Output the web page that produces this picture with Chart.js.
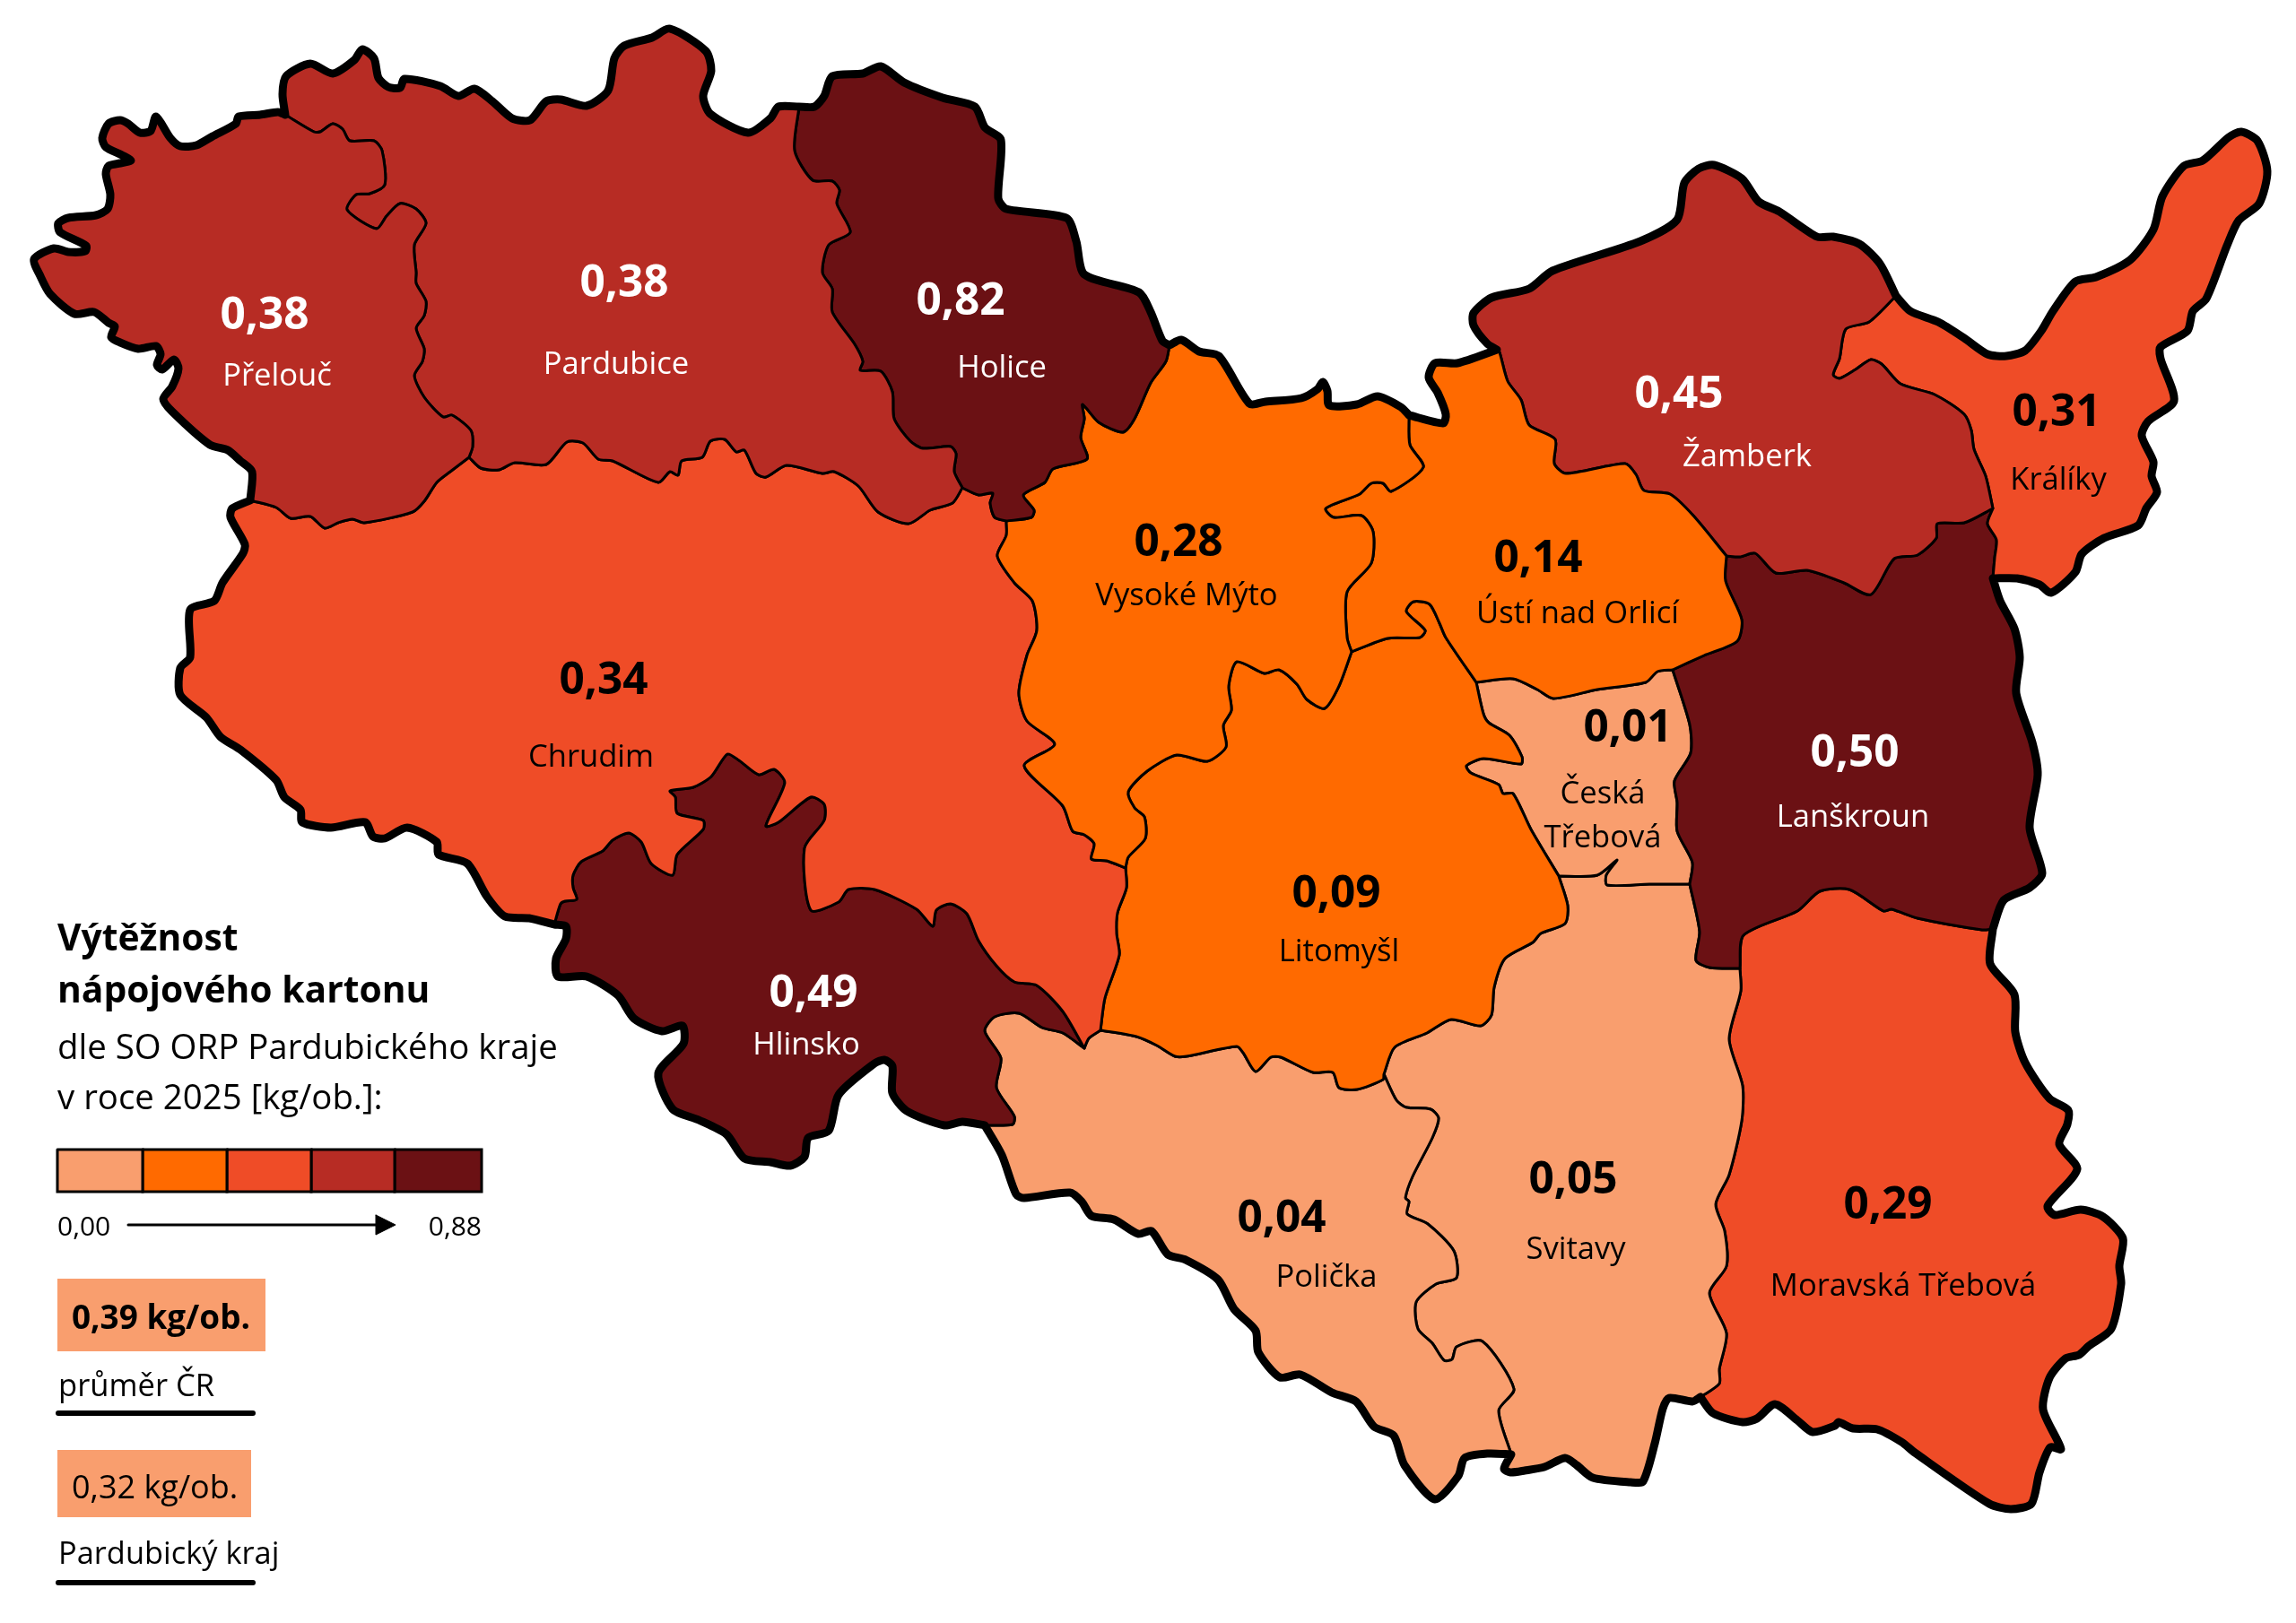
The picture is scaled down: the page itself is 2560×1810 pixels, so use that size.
<!DOCTYPE html>
<html lang="cs">
<head>
<meta charset="utf-8">
<title>Výtěžnost nápojového kartonu</title>
<script src="https://cdn.jsdelivr.net/npm/chart.js@4"></script>
<style>
html,body{margin:0;padding:0;background:#fff}
canvas{display:block}
</style>
</head>
<body>
<canvas id="map" width="2560" height="1810"></canvas>
<script>
// ---- Map outline arcs (map units), shared between neighbouring districts ----
const aPrelOuter=[[318,128],[310,125],[290,128],[266,130],[263,138],[237,152],[219,162],[201,163],[190,154],[174,130],[168,146],[156,148],[143,138],[134,134],[121,138],[114,154],[118,164],[136,173],[146,179],[134,182],[121,185],[118,194],[123,217],[120,233],[107,240],[76,243],[65,249],[67,259],[96,274],[95,280],[76,281],[60,277],[38,289],[45,308],[56,328],[83,350],[105,348],[121,360],[128,364],[124,376],[134,382],[154,389],[174,386],[179,395],[175,407],[181,412],[194,401],[199,411],[192,431],[182,445],[192,459],[234,496],[254,502],[268,514],[281,526],[279,558]];
const aPrelChr=[[279,558],[308,566],[324,578],[346,576],[362,589],[377,583],[393,579],[406,583],[460,571],[473,559],[487,538],[502,526],[523,510]];
const aPrelPard=[[318,128],[350,147],[357,147],[371,138],[382,144],[390,157],[417,157],[426,168],[429,206],[412,216],[397,217],[387,234],[420,255],[431,241],[446,227],[464,233],[475,249],[462,273],[464,304],[464,316],[475,336],[473,352],[464,366],[473,389],[471,403],[462,419],[473,443],[494,465],[504,463],[525,480],[527,498],[523,510]];
const aPardOuter=[[318,128],[315,105],[319,85],[346,71],[371,82],[395,67],[404,55],[417,65],[422,87],[433,97],[446,98],[451,88],[491,96],[511,107],[529,99],[549,113],[571,132],[591,134],[609,113],[625,111],[654,118],[678,101],[685,65],[696,51],[727,42],[747,32],[787,57],[793,79],[784,107],[792,127],[834,148],[859,132],[868,119],[891,119]];
const aHolOuter=[[891,119],[908,119],[919,107],[928,85],[962,82],[982,74],[1008,92],[1051,109],[1087,119],[1098,142],[1116,156],[1113,221],[1122,233],[1189,243],[1200,269],[1209,306],[1270,326],[1283,348],[1296,380],[1304,385]];
const aVmOuter=[[1304,385],[1317,379],[1337,392],[1359,397],[1393,450],[1411,448],[1451,444],[1469,434],[1475,426],[1480,436],[1482,452],[1513,451],[1536,442],[1562,454],[1571,463]];
const aUstOuter=[[1571,463],[1609,472],[1612,462],[1603,438],[1593,421],[1600,405],[1625,405],[1669,390]];
const aZamOuter=[[1669,390],[1658,383],[1643,363],[1643,349],[1663,332],[1705,322],[1731,302],[1829,269],[1870,245],[1878,204],[1894,188],[1911,184],[1942,199],[1961,225],[1984,236],[2026,264],[2044,264],[2073,272],[2096,294],[2114,330]];
const aKraOuter=[[2114,330],[2130,347],[2161,359],[2190,377],[2216,395],[2237,397],[2258,391],[2276,369],[2289,347],[2314,314],[2337,309],[2375,290],[2401,256],[2411,219],[2435,185],[2456,179],[2485,153],[2499,147],[2517,157],[2528,191],[2519,227],[2496,246],[2483,274],[2460,333],[2445,347],[2439,369],[2409,387],[2409,400],[2424,447],[2395,470],[2388,486],[2401,515],[2399,531],[2405,549],[2393,567],[2384,586],[2346,600],[2321,618],[2314,638],[2287,661],[2274,652],[2249,645],[2222,645]];
const aKraZam=[[2114,330],[2084,359],[2058,367],[2051,400],[2044,418],[2051,422],[2069,412],[2086,401],[2098,406],[2119,428],[2157,440],[2190,462],[2198,480],[2201,501],[2214,531],[2222,567]];
const aKraLan=[[2222,567],[2216,584],[2226,602],[2224,622],[2222,645]];
const aZamLan=[[2222,567],[2190,583],[2160,584],[2159,600],[2138,619],[2112,623],[2086,663],[2056,650],[2015,636],[1980,639],[1957,617],[1940,621],[1925,620]];
const aZamUst=[[1669,390],[1672,393],[1681,425],[1696,446],[1705,474],[1734,490],[1733,517],[1746,528],[1812,517],[1824,529],[1833,547],[1862,551],[1888,575],[1925,620]];
const aUstLan=[[1925,620],[1924,648],[1942,691],[1937,715],[1900,731],[1865,747]];
const aUstCes=[[1865,747],[1848,749],[1835,761],[1781,769],[1732,779],[1714,769],[1687,757],[1646,761]];
const aUstLit=[[1646,761],[1612,711],[1605,695],[1594,674],[1576,671],[1568,682],[1589,703],[1583,711],[1547,712],[1507,727]];
const aUstVm=[[1571,463],[1572,496],[1587,521],[1551,548],[1542,539],[1529,539],[1516,551],[1478,567],[1487,577],[1518,575],[1531,593],[1529,628],[1502,660],[1502,711],[1507,727]];
const aVmLit=[[1507,727],[1493,765],[1477,790],[1457,780],[1446,763],[1426,747],[1410,751],[1379,738],[1370,765],[1373,792],[1364,809],[1367,833],[1346,849],[1312,842],[1279,860],[1258,883],[1265,901],[1276,911],[1277,935],[1258,956],[1255,968]];
const aVmChr=[[1255,968],[1234,960],[1217,958],[1220,941],[1209,931],[1196,927],[1185,899],[1142,854],[1176,830],[1145,804],[1136,773],[1145,731],[1156,703],[1151,670],[1131,650],[1112,620],[1122,597],[1122,581]];
const aHolVm=[[1122,581],[1150,577],[1153,569],[1141,552],[1165,538],[1174,523],[1212,512],[1205,488],[1209,467],[1207,451],[1225,471],[1252,482],[1265,467],[1283,427],[1300,403],[1304,385]];
const aHolChr=[[1122,581],[1109,577],[1104,561],[1107,550],[1091,552],[1073,544]];
const aPardHol=[[1073,544],[1064,526],[1066,506],[1060,498],[1029,500],[1015,492],[997,467],[995,437],[982,414],[959,413],[962,403],[953,384],[928,348],[928,322],[917,304],[924,273],[948,259],[933,227],[936,212],[928,202],[906,201],[886,168],[891,119]];
const aPardChr=[[523,510],[536,522],[556,524],[574,516],[609,518],[632,493],[650,494],[667,512],[683,514],[734,538],[747,526],[756,530],[760,514],[783,510],[792,492],[808,490],[821,504],[830,502],[843,528],[854,532],[877,519],[917,528],[930,526],[957,542],[979,571],[1013,584],[1037,569],[1062,561],[1073,544]];
const aChrOuter=[[279,558],[259,567],[257,577],[273,607],[271,617],[248,650],[239,670],[212,680],[212,733],[201,745],[201,775],[230,800],[246,822],[268,836],[308,870],[317,889],[335,903],[337,917],[369,923],[407,917],[416,933],[429,935],[454,923],[487,939],[489,953],[521,963],[543,1000],[563,1022],[590,1024],[618,1031]];
const aChrHli=[[618,1031],[625,1008],[630,1005],[643,1003],[639,990],[639,976],[648,961],[672,949],[683,937],[701,929],[715,939],[726,963],[750,976],[755,953],[784,925],[784,915],[755,907],[753,889],[747,882],[773,878],[793,866],[811,841],[824,848],[846,864],[863,858],[875,873],[854,921],[868,917],[904,889],[919,897],[919,915],[897,946],[904,1015],[935,1006],[946,992],[975,992],[1022,1014],[1040,1033],[1044,1015],[1060,1008],[1078,1019],[1091,1049],[1111,1077],[1131,1095],[1156,1099],[1185,1128],[1209,1169]];
const aChrLit=[[1255,968],[1256,990],[1246,1018],[1245,1041],[1248,1065],[1232,1113],[1227,1149]];
const aChrPol=[[1227,1149],[1214,1158],[1209,1169]];
const aHliPol=[[1209,1169],[1185,1152],[1162,1146],[1136,1130],[1109,1134],[1098,1150],[1116,1180],[1111,1213],[1131,1245],[1129,1254],[1098,1255]];
const aHliOuter=[[618,1031],[631,1033],[631,1047],[620,1069],[622,1089],[654,1089],[689,1110],[707,1136],[738,1150],[761,1144],[762,1164],[734,1197],[750,1237],[779,1249],[810,1265],[830,1292],[859,1296],[881,1300],[897,1290],[901,1269],[924,1261],[935,1221],[975,1186],[986,1182],[995,1189],[995,1219],[1011,1239],[1053,1255],[1073,1251],[1098,1255]];
const aPolOuter=[[1098,1255],[1117,1288],[1133,1332],[1142,1336],[1193,1330],[1206,1340],[1217,1356],[1242,1360],[1269,1376],[1284,1373],[1302,1399],[1322,1405],[1358,1427],[1376,1460],[1400,1484],[1403,1508],[1427,1536],[1450,1533],[1485,1553],[1512,1563],[1532,1591],[1554,1601],[1566,1634],[1600,1672],[1626,1646],[1633,1626],[1659,1621],[1685,1622]];
const aPolLit=[[1227,1149],[1267,1156],[1290,1166],[1310,1178],[1323,1178],[1379,1167],[1386,1174],[1400,1195],[1417,1179],[1428,1179],[1464,1196],[1486,1196],[1493,1213],[1513,1215],[1542,1204],[1543,1198]];
const aPolSvi=[[1543,1198],[1557,1227],[1568,1235],[1595,1237],[1604,1247],[1597,1269],[1575,1312],[1567,1336],[1571,1340],[1569,1354],[1592,1365],[1621,1395],[1624,1425],[1601,1432],[1579,1452],[1581,1482],[1597,1498],[1610,1517],[1619,1516],[1624,1502],[1653,1496],[1688,1549],[1671,1573],[1685,1622]];
const aLitSvi=[[1543,1198],[1555,1168],[1591,1152],[1618,1137],[1651,1144],[1663,1132],[1666,1101],[1678,1069],[1709,1051],[1718,1041],[1745,1030],[1748,1010],[1738,977]];
const aLitCes=[[1646,761],[1654,796],[1660,806],[1683,820],[1697,844],[1696,852],[1654,846],[1635,854],[1640,862],[1671,875],[1676,885],[1687,885],[1707,925],[1738,977]];
const aCesLan=[[1865,747],[1884,808],[1885,840],[1867,871],[1870,895],[1870,927],[1887,962],[1884,986]];
const aCesSvi=[[1738,977],[1781,976],[1803,959],[1791,976],[1792,987],[1839,986],[1884,986]];
const aLanSvi=[[1884,986],[1895,1039],[1891,1071],[1906,1079],[1940,1080]];
const aLanMt=[[1940,1080],[1944,1043],[2004,1016],[2029,994],[2062,992],[2100,1016],[2109,1014],[2138,1024],[2210,1037],[2222,1036]];
const aLanOuter=[[2222,645],[2230,670],[2246,701],[2252,733],[2248,773],[2266,828],[2272,864],[2263,923],[2277,974],[2263,990],[2234,1004],[2222,1036]];
const aMtOuter=[[2222,1036],[2219,1075],[2246,1109],[2247,1151],[2258,1185],[2285,1225],[2306,1238],[2305,1254],[2296,1276],[2316,1304],[2283,1345],[2291,1355],[2320,1349],[2345,1357],[2367,1381],[2363,1412],[2365,1432],[2354,1482],[2329,1501],[2318,1511],[2303,1515],[2285,1537],[2278,1572],[2298,1616],[2286,1614],[2274,1642],[2265,1677],[2242,1683],[2218,1677],[2135,1620],[2120,1608],[2093,1594],[2066,1593],[2050,1586],[2046,1590],[2021,1597],[2004,1584],[1979,1566],[1959,1582],[1943,1586],[1910,1576],[1896,1558]];
const aMtSvi=[[1940,1080],[1941,1105],[1928,1159],[1943,1211],[1942,1250],[1928,1310],[1913,1343],[1923,1373],[1925,1412],[1906,1442],[1925,1487],[1917,1527],[1917,1543],[1896,1558]];
const aSviOuter=[[1896,1558],[1887,1563],[1861,1559],[1854,1571],[1845,1610],[1832,1652],[1818,1653],[1776,1648],[1758,1634],[1745,1626],[1722,1636],[1700,1640],[1684,1642],[1677,1638],[1685,1622]];

// ---- Data ----
const classColors=['#F99E6E','#FF6A00','#EF4C27','#B72C24','#6B1114'];
const districts=['Přelouč','Pardubice','Holice','Vysoké Mýto','Ústí nad Orlicí','Žamberk','Králíky','Lanškroun','Chrudim','Hlinsko','Litomyšl','Česká Třebová','Polička','Svitavy','Moravská Třebová'];
const yields=[0.38,0.38,0.82,0.28,0.14,0.45,0.31,0.50,0.34,0.49,0.09,0.01,0.04,0.05,0.29];
const yieldClass=[3,3,4,1,1,3,2,4,2,4,1,0,0,0,2];
const scaleMin='0,00', scaleMax='0,88';
const titleLines=['Výtěžnost','nápojového kartonu'];
const subtitleLines=['dle SO ORP Pardubického kraje','v roce 2025 [kg/ob.]:'];
const czAverage='0,39 kg/ob.', czLabel='průměr ČR';
const regionAverage='0,32 kg/ob.', regionLabel='Pardubický kraj';

// ---- Positions (map units) ----
const valueAnchors=[[295,353],[696,317],[1071,337],[1314,606],[1715,624],[1872,441],[2293,461],[2068,841],[673,760],[907,1109],[1490,998],[1815,813],[1429,1360],[1754,1317],[2105,1345]];
const nameAnchors=[[309,420],[687,407],[1117,411],[1323,665],[1759,685],[1948,510],[2295,536],[2066,912],[659,845],[899,1166],[1493,1062],[1787,886],[1479,1425],[1757,1394],[2122,1435]];
const legendEdges=[64,159,253,347,440,537];
const legendBarY=[1282,1329];

const rev=a=>a.slice().reverse();
const join=(...arcs)=>arcs.flat().map(([x,y])=>({x,y}));
const shapes=[
 join(aPrelOuter,aPrelChr,rev(aPrelPard)),
 join(aPardOuter,rev(aPardHol),rev(aPardChr),rev(aPrelPard)),
 join(aHolOuter,rev(aHolVm),aHolChr,aPardHol),
 join(aVmOuter,aUstVm,aVmLit,aVmChr,aHolVm),
 join(aUstOuter,aZamUst,aUstLan,aUstCes,aUstLit,rev(aUstVm)),
 join(aZamOuter,aKraZam,aZamLan,rev(aZamUst)),
 join(aKraOuter,rev(aKraLan),rev(aKraZam)),
 join(aKraLan,aLanOuter,rev(aLanMt),rev(aLanSvi),rev(aCesLan),rev(aUstLan),rev(aZamLan)),
 join(aChrOuter,aChrHli,rev(aChrPol),rev(aChrLit),aVmChr,aHolChr,rev(aPardChr),rev(aPrelChr)),
 join(aHliOuter,rev(aHliPol),rev(aChrHli)),
 join(rev(aVmLit),rev(aUstLit),aLitCes,rev(aLitSvi),rev(aPolLit),rev(aChrLit)),
 join(rev(aUstCes),aCesLan,rev(aCesSvi),rev(aLitCes)),
 join(aPolOuter,rev(aPolSvi),rev(aPolLit),aChrPol,aHliPol),
 join(aPolSvi,rev(aSviOuter),rev(aMtSvi),rev(aLanSvi),rev(aCesSvi),rev(aLitSvi)),
 join(aMtOuter,rev(aMtSvi),aLanMt)
];
const outline=join(aPardOuter,aHolOuter,aVmOuter,aUstOuter,aZamOuter,aKraOuter,aLanOuter,aMtOuter,aSviOuter,rev(aPolOuter),rev(aHliOuter),rev(aChrOuter),rev(aPrelOuter));

const base={type:'scatter',showLine:true,pointRadius:0,pointHoverRadius:0,borderJoinStyle:'round',borderCapStyle:'round'};
const rect=(x0,x1,y0,y1)=>[{x:x0,y:y0},{x:x1,y:y0},{x:x1,y:y1},{x:x0,y:y1},{x:x0,y:y0}];
const datasets=[];
shapes.forEach((pts,i)=>datasets.push({...base,label:districts[i],data:pts,fill:'shape',backgroundColor:classColors[yieldClass[i]],borderColor:'#000',borderWidth:3,tension:0.25,order:10}));
datasets.push({...base,label:'Hranice kraje',data:outline,fill:false,borderColor:'#000',borderWidth:9,tension:0.25,order:5});
classColors.forEach((c,i)=>datasets.push({...base,label:'Třída '+(i+1),data:rect(legendEdges[i],legendEdges[i+1],legendBarY[0],legendBarY[1]),fill:'shape',backgroundColor:c,borderColor:'#000',borderWidth:3,borderJoinStyle:'miter',tension:0,order:4}));
datasets.push({...base,label:'Šipka',data:[{x:143,y:1366},{x:420,y:1366}],borderColor:'#000',borderWidth:3,tension:0,order:3});
datasets.push({...base,label:'Hrot',data:[{x:419,y:1355},{x:441,y:1366},{x:419,y:1377},{x:419,y:1355}],fill:'shape',backgroundColor:'#000',borderColor:'#000',borderWidth:1,tension:0,order:3});
datasets.push({...base,label:czLabel+' pole',data:rect(64,296,1426,1507),fill:'shape',backgroundColor:classColors[0],borderWidth:0,borderColor:classColors[0],tension:0,order:3});
datasets.push({...base,label:regionLabel+' pole',data:rect(64,280,1617,1692),fill:'shape',backgroundColor:classColors[0],borderWidth:0,borderColor:classColors[0],tension:0,order:3});
datasets.push({...base,label:czLabel+' linka',data:[{x:65,y:1576},{x:282,y:1576}],borderColor:'#000',borderWidth:6,tension:0,order:3});
datasets.push({...base,label:regionLabel+' linka',data:[{x:65,y:1765},{x:282,y:1765}],borderColor:'#000',borderWidth:6,tension:0,order:3});

const FONT='"Open Sans","Noto Sans",sans-serif';
const textPlugin={id:'mapText',afterDatasetsDraw(chart){
  const {ctx,scales:{x,y}}=chart;
  const put=(s,px,py,font,color,align,base)=>{ctx.font=font+' '+FONT;ctx.fillStyle=color;ctx.textAlign=align||'center';ctx.textBaseline=base||'middle';ctx.fillText(s,x.getPixelForValue(px),y.getPixelForValue(py));};
  ctx.save();
  districts.forEach((d,i)=>{
    const col=yieldClass[i]>=3?'#fff':'#000';
    put(yields[i].toFixed(2).replace('.',','),valueAnchors[i][0],valueAnchors[i][1],'700 49.5px',col);
    if(d==='Česká Třebová'){
      put('Česká',nameAnchors[i][0],nameAnchors[i][1],'400 34.6px',col);
      put('Třebová',nameAnchors[i][0],nameAnchors[i][1]+49,'400 34.6px',col);
    }else{
      put(d,nameAnchors[i][0],nameAnchors[i][1],'400 34.6px',col);
    }
  });
  put(titleLines[0],64,1060,'700 40.8px','#000','left','alphabetic');
  put(titleLines[1],64,1118,'700 40.8px','#000','left','alphabetic');
  put(subtitleLines[0],64,1181,'400 38.4px','#000','left','alphabetic');
  put(subtitleLines[1],64,1237,'400 38.4px','#000','left','alphabetic');
  put(scaleMin,64,1378,'400 30px','#000','left','alphabetic');
  put(scaleMax,537,1378,'400 30px','#000','right','alphabetic');
  put(czAverage,80,1482,'700 36.9px','#000','left','alphabetic');
  put(czLabel,65,1557,'400 34.6px','#000','left','alphabetic');
  put(regionAverage,80,1671,'400 36px','#000','left','alphabetic');
  put(regionLabel,65,1744,'400 34.4px','#000','left','alphabetic');
  ctx.restore();
}};

new Chart(document.getElementById('map'),{
  type:'scatter',
  data:{datasets},
  options:{
    responsive:false,animation:false,devicePixelRatio:1,
    layout:{padding:0},
    events:[],
    scales:{
      x:{type:'linear',min:0,max:2560,display:false},
      y:{type:'linear',min:0,max:1810,reverse:true,display:false}
    },
    plugins:{legend:{display:false},title:{display:false},tooltip:{enabled:false}}
  },
  plugins:[textPlugin]
});
</script>
</body>
</html>
